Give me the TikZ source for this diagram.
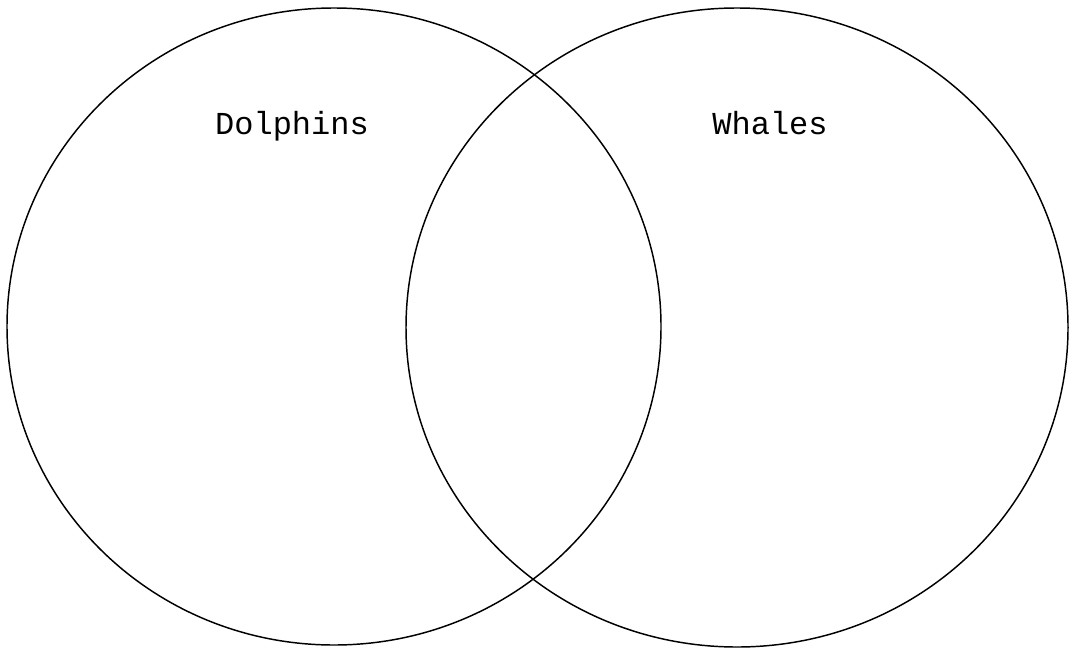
\documentclass[tikz,border=0pt]{standalone}
\usepackage{fontspec}
\setmonofont{Liberation Mono}
\usepackage{tikz}

\begin{document}
\begin{tikzpicture}[x=0.75pt, y=-0.75pt]
    \tikzset{
        setline/.style={line width=1.1pt},
        setlabel/.style={font=\ttfamily\fontsize{24}{28}\selectfont, inner sep=0pt, anchor=base}
    }
    % Fix the page to the reference size
    \useasboundingbox (0, 0) rectangle (1069, 649);

    % Draw the two sets
    \draw[setline] (334, 326.5) ellipse [x radius=327, y radius=318.5];
    \draw[setline] (737, 327.5) ellipse [x radius=331, y radius=319.5];

    % Set names
    \node[setlabel] (dolphins) at (292, 135) {Dolphins};
    \node[setlabel] (whales) at (770, 135) {Whales};
\end{tikzpicture}
\end{document}
